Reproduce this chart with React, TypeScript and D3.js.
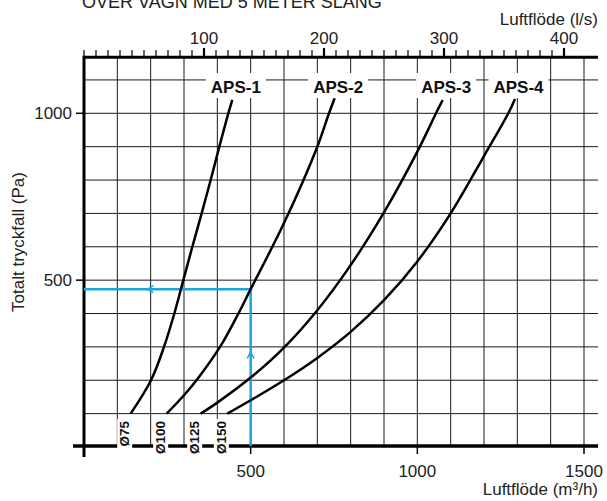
import React from 'react';
import * as d3 from 'd3';

const W = 607;
const H = 501;
const FONT = 'Liberation Sans, Arial, Helvetica, sans-serif';

const chartTitle = 'ÖVER VAGN MED 5 METER SLANG';
const seriesNames = ['APS-1', 'APS-2', 'APS-3', 'APS-4'];
const hoseSizes = ['Ø75', 'Ø100', 'Ø125', 'Ø150'];

// flow in m³/h, pressure drop in Pa
const aps1Flow = [140, 201, 240, 271, 298, 325, 353, 380, 406, 433, 445];
const aps1Pa = [100, 200, 300, 400, 500, 600, 700, 800, 900, 1000, 1040];
const aps2Flow = [248, 300, 345, 408, 458, 500, 600, 700, 735, 752];
const aps2Pa = [100, 155, 210, 300, 390, 473, 671, 900, 1000, 1045];
const aps3Flow = [350, 400, 500, 600, 700, 800, 900, 1000, 1056, 1076];
const aps3Pa = [100, 133, 208, 298, 410, 545, 703, 885, 1000, 1040];
const aps4Flow = [430, 500, 600, 700, 800, 900, 1000, 1100, 1200, 1273, 1293];
const aps4Pa = [100, 140, 200, 267, 345, 440, 556, 700, 872, 1000, 1043];

const flowTicks = [500, 1000, 1500];
const pressureTicks = [500, 1000];
const litreTicks = [100, 200, 300, 400];

// worked example drawn in blue
const selectedFlow = 500;
const selectedPressure = 473;

const seriesFlows = [aps1Flow, aps2Flow, aps3Flow, aps4Flow];
const seriesPressures = [aps1Pa, aps2Pa, aps3Pa, aps4Pa];

const BLUE = '#1ba6de';

const App = () => {
  const x = d3.scaleLinear().domain([0, 1500]).range([84, 584]);
  const xLs = d3.scaleLinear().domain([0, 1500 / 3.6]).range([84, 584]);
  const y = d3.scaleLinear().domain([0, 1000]).range([447, 113.3]);

  const top = y(1168);
  const bottom = y(0) - 1;
  const left = x(0);
  const right = 598;

  const line = d3
    .line<[number, number]>()
    .x(d => x(d[0]))
    .y(d => y(d[1]))
    .curve(d3.curveCatmullRom.alpha(0.5));

  const gridX = d3.range(100, 1501, 100);
  const gridY = d3.range(100, 1101, 100);
  const minorLs = d3.range(0, 401, 10);

  const bx = x(selectedFlow);
  const by = y(selectedPressure);
  const upArrowY = y(selectedPressure * 0.6);
  const leftArrowX = x(selectedFlow * 0.38);

  return (
    <svg width={W} height={H} style={{ position: 'absolute', left: 0, top: 0, display: 'block', background: '#fff' }}>
      <rect width={W} height={H} fill="#fff" />
      <g fontFamily={FONT} fill="#222">
        <text x={82} y={8} fontSize={18}>{chartTitle}</text>
        <text x={right} y={25} fontSize={17} textAnchor="end">Luftflöde (l/s)</text>
        <text x={right} y={495} fontSize={17} textAnchor="end">Luftflöde (m³/h)</text>
        <text transform={`translate(18,242) rotate(-90)`} fontSize={17} textAnchor="middle" dominantBaseline="central">
          Totalt tryckfall (Pa)
        </text>
      </g>

      {/* grid */}
      <g stroke="#1a1a1a" strokeWidth={1}>
        {gridX.map(v => (
          <line key={'gx' + v} x1={x(v)} x2={x(v)} y1={top} y2={bottom} />
        ))}
        {gridY.map(v => (
          <line key={'gy' + v} x1={left} x2={right} y1={y(v)} y2={y(v)} />
        ))}
      </g>

      {/* top axis in l/s */}
      <g stroke="#000">
        {minorLs.map(v => (
          <line key={'mt' + v} x1={xLs(v)} x2={xLs(v)} y1={top} y2={50} strokeWidth={1.2} />
        ))}
        {litreTicks.map(v => (
          <line key={'Mt' + v} x1={xLs(v)} x2={xLs(v)} y1={top} y2={48} strokeWidth={2.2} />
        ))}
        <line x1={left} x2={right} y1={top} y2={top} strokeWidth={3} />
      </g>
      <g fontFamily={FONT} fontSize={17} fill="#222" textAnchor="middle">
        {litreTicks.map(v => (
          <text key={'lt' + v} x={xLs(v)} y={44}>{v}</text>
        ))}
      </g>

      {/* left axis */}
      <g stroke="#000">
        <line x1={left} x2={left} y1={top - 1.5} y2={457} strokeWidth={3} />
        {pressureTicks.map(v => (
          <line key={'yt' + v} x1={76} x2={left} y1={y(v)} y2={y(v)} strokeWidth={1.5} />
        ))}
      </g>
      <g fontFamily={FONT} fontSize={17} fill="#222" textAnchor="end">
        {pressureTicks.map(v => (
          <text key={'yl' + v} x={72} y={y(v)} dominantBaseline="central">{v}</text>
        ))}
      </g>

      {/* bottom axis */}
      <g stroke="#000">
        <line x1={73} x2={right} y1={bottom} y2={bottom} strokeWidth={3.5} />
        {flowTicks.map(v => (
          <line key={'xt' + v} x1={x(v)} x2={x(v)} y1={bottom} y2={454} strokeWidth={1.5} />
        ))}
      </g>
      <g fontFamily={FONT} fontSize={17} fill="#222" textAnchor="middle">
        {flowTicks.map(v => (
          <text key={'xl' + v} x={x(v)} y={477}>{v}</text>
        ))}
      </g>

      {/* blue worked example */}
      <g stroke={BLUE} strokeWidth={2.5} fill="none">
        <line x1={bx} x2={bx} y1={bottom} y2={by} />
        <line x1={bx} x2={left} y1={by} y2={by} />
        <path d={`M${bx - 3.5},${upArrowY + 6}L${bx},${upArrowY}L${bx + 3.5},${upArrowY + 6}`} strokeWidth={1.5} />
        <path d={`M${leftArrowX + 6},${by - 3.5}L${leftArrowX},${by}L${leftArrowX + 6},${by + 3.5}`} strokeWidth={1.5} />
      </g>

      {/* curves */}
      <g fill="none" stroke="#000" strokeWidth={2.5}>
        {seriesFlows.map((flows, i) => (
          <path key={'c' + i} d={line(flows.map((f, j) => [f, seriesPressures[i][j]]) as [number, number][]) || ''} />
        ))}
      </g>

      {/* series labels */}
      <g fontFamily={FONT} fontSize={17} fontWeight="bold" fill="#111" textAnchor="middle">
        {seriesNames.map((name, i) => {
          const flows = seriesFlows[i];
          const cx = x(flows[flows.length - 1]) + 3.5;
          return (
            <g key={name}>
              <rect x={cx - 30} y={73} width={60} height={25} fill="#fff" />
              <text x={cx} y={92.5}>{name}</text>
            </g>
          );
        })}
      </g>

      {/* hose diameters */}
      <g fontFamily={FONT} fontSize={13.5} fontWeight="bold" fill="#111">
        {hoseSizes.map((s, i) => {
          const lx = x(seriesFlows[i][0]) - 6;
          return (
            <g key={s}>
              <rect x={lx - 7.5} y={419} width={15} height={40} fill="#fff" />
              <text transform={`translate(${lx},421) rotate(-90)`} textAnchor="end" dominantBaseline="central">{s}</text>
            </g>
          );
        })}
      </g>
    </svg>
  );
};

export default App;
